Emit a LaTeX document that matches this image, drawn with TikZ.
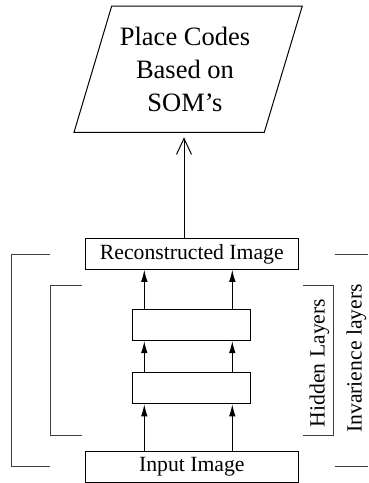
\documentclass[tikz,border=0pt]{standalone}
\usepackage{fontspec}
\setmainfont{Liberation Serif}
\usetikzlibrary{arrows.meta}

\begin{document}
\begin{tikzpicture}[x=1pt,y=-1pt,line width=1pt,
  layerbox/.style={draw,rectangle,inner sep=0pt,minimum width=213pt,minimum height=30.5pt,
    font=\fontsize{21.7}{26}\selectfont},
  hiddenbox/.style={draw,rectangle,inner sep=0pt,minimum width=118.5pt,minimum height=31.5pt},
  flow/.style={-{Latex[length=12pt,width=6.5pt]}},
  bracket/.style={draw=black!75,line width=1pt},
  sidelabel/.style={rotate=90,inner sep=0pt,font=\fontsize{21.7}{26}\selectfont}]

\useasboundingbox (0,0) rectangle (368,483);

% output stage: parallelogram with its caption
\draw (111.7,6) -- (302.3,6) -- (264.3,132.3) -- (74,132.3) -- cycle;
\node[align=center,inner sep=0pt,font=\fontsize{26.5}{33}\selectfont] (som) at (185,69)
  {Place Codes\\Based on\\SOM's};

% network layers
\node[layerbox] (recon) at (191.8,254) {Reconstructed Image};
\node[hiddenbox] (hidA) at (191.5,324.8) {};
\node[hiddenbox] (hidB) at (191.5,388) {};
\node[layerbox] (input) at (191.8,466.8) {Input Image};

% columns of the connecting arrows
\coordinate (colL) at (144.3,0);
\coordinate (colR) at (232.3,0);
\foreach \c in {colL,colR}{
  \draw[flow] (\c |- input.north) -- (\c |- hidB.south);
  \draw[flow] (\c |- hidB.north) -- (\c |- hidA.south);
  \draw[flow] (\c |- hidA.north) -- (\c |- recon.south);
}

% arrow up to the place codes
\coordinate (somtip) at (184,137.3);
\draw[-{Straight Barb[length=16pt,width=15pt]}] (somtip |- recon.north) -- (somtip);

% brackets marking the layer groups
\draw[bracket] (50,254.3) -- (11,254.3) -- (11,466.7) -- (50,466.7);
\draw[bracket] (81.7,285.7) -- (50,285.7) -- (50,435) -- (81.7,435);
\draw[bracket] (303,285.7) -- (333,285.7) -- (333,435) -- (303,435);
\draw[bracket] (334.7,254.3) -- (368,254.3);
\draw[bracket] (334.7,466.7) -- (368,466.7);

\node[sidelabel] (hidlabel) at (319.5,363) {Hidden Layers};
\node[sidelabel] (invlabel) at (356.5,358.5) {Invarience layers};
\end{tikzpicture}
\end{document}
